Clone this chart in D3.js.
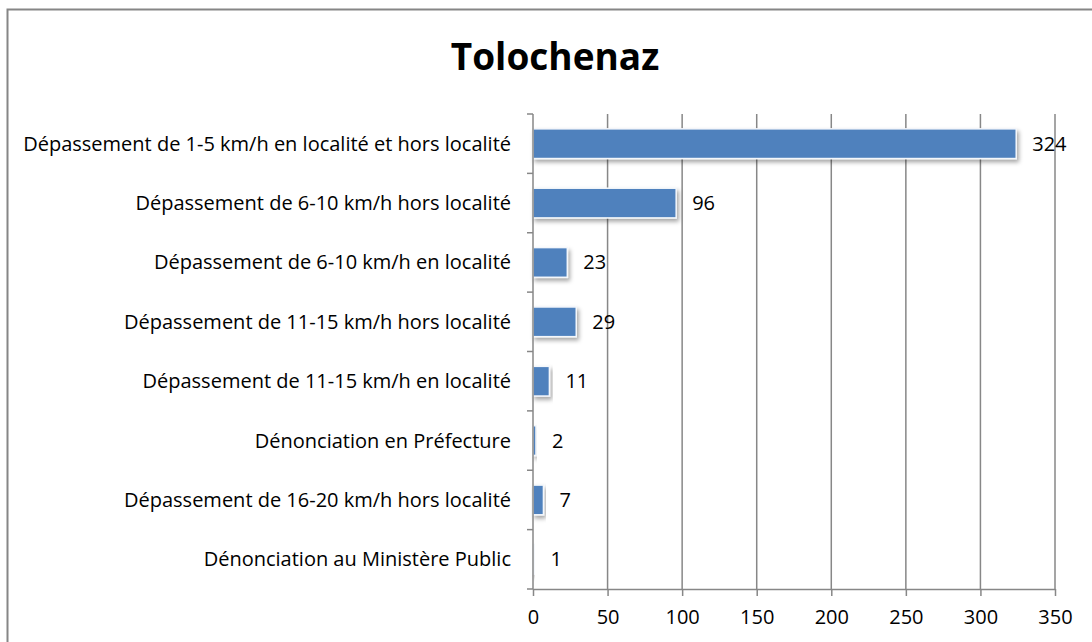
<!DOCTYPE html>
<html>
<head>
<meta charset="utf-8">
<script src="https://cdn.jsdelivr.net/npm/d3@7"></script>
<style>
  body { margin: 0; background: #fff; }
  svg { display: block; font-family: "Open Sans", "Noto Sans", sans-serif; }
</style>
</head>
<body>
<svg id="chart" width="1092" height="642"></svg>
<script>
const categories = [
  "Dépassement de 1-5 km/h en localité et hors localité",
  "Dépassement de 6-10 km/h hors localité",
  "Dépassement de 6-10 km/h en localité",
  "Dépassement de 11-15 km/h hors localité",
  "Dépassement de 11-15 km/h en localité",
  "Dénonciation en Préfecture",
  "Dépassement de 16-20 km/h hors localité",
  "Dénonciation au Ministère Public"
];
const values = [324, 96, 23, 29, 11, 2, 7, 1];
const xTicks = [0, 50, 100, 150, 200, 250, 300, 350];
const title = "Tolochenaz";

const width = 1092, height = 642;
const plotLeft = 533, plotRight = 1055, plotTop = 114, plotBottom = 589;
const gridColor = "#878787";
const fontSize = "20px";

const svg = d3.select("#chart");

// frame
svg.append("rect")
  .attr("x", 7.5).attr("y", 9.5)
  .attr("width", width + 10).attr("height", height + 10)
  .attr("fill", "none").attr("stroke", "#868686").attr("stroke-width", 2);

// shadow filter
const defs = svg.append("defs");
const f = defs.append("filter").attr("id", "shadow")
  .attr("x", "-10%").attr("y", "-30%").attr("width", "130%").attr("height", "190%");
f.append("feDropShadow")
  .attr("dx", 2).attr("dy", 3).attr("stdDeviation", 2)
  .attr("flood-color", "#000").attr("flood-opacity", 0.35);

svg.append("text")
  .attr("x", 555).attr("y", 70)
  .attr("text-anchor", "middle")
  .style("font-size", "37px").style("font-weight", "bold")
  .text(title);

const x = d3.scaleLinear().domain([0, 350]).range([plotLeft, plotRight]);
const y = d3.scaleBand().domain(categories).range([plotTop, plotBottom]).paddingInner(0.5).paddingOuter(0.25);

// gridlines
svg.append("g").selectAll("line")
  .data(xTicks.slice(1))
  .join("line")
  .attr("x1", d => x(d)).attr("x2", d => x(d))
  .attr("y1", plotTop).attr("y2", plotBottom)
  .attr("stroke", gridColor).attr("stroke-width", 1.5);

// bottom axis
const xAxis = svg.append("g")
  .attr("transform", `translate(0,${plotBottom})`)
  .call(d3.axisBottom(x).tickValues(xTicks).tickSize(7).tickPadding(14).tickSizeOuter(0));
xAxis.select(".domain").attr("stroke", gridColor).attr("stroke-width", 1.5);
xAxis.selectAll(".tick line").attr("stroke", gridColor).attr("stroke-width", 1.5);
xAxis.selectAll("text").style("font-size", fontSize).attr("fill", "#000")
  .style("font-family", "\"Open Sans\", sans-serif");

// bars
svg.append("g").selectAll("rect")
  .data(values)
  .join("rect")
  .attr("x", x(0))
  .attr("y", (d, i) => y(categories[i]))
  .attr("width", d => x(d) - x(0))
  .attr("height", y.bandwidth())
  .attr("fill", "#4F81BD")
  .attr("stroke", "#f4f7fb").attr("stroke-width", 1.5)
  .attr("filter", "url(#shadow)");

// left axis with ticks at band boundaries
const bounds = d3.range(categories.length + 1).map(i => plotTop + i * y.step());
svg.append("line")
  .attr("x1", plotLeft).attr("x2", plotLeft).attr("y1", plotTop).attr("y2", plotBottom)
  .attr("stroke", gridColor).attr("stroke-width", 1.5);
svg.append("g").selectAll("line")
  .data(bounds)
  .join("line")
  .attr("x1", plotLeft - 6).attr("x2", plotLeft)
  .attr("y1", d => d).attr("y2", d => d)
  .attr("stroke", gridColor).attr("stroke-width", 1.5);

// category labels
svg.append("g").selectAll("text")
  .data(categories)
  .join("text")
  .attr("x", plotLeft - 22)
  .attr("y", d => y(d) + y.bandwidth() / 2)
  .attr("dy", "0.35em")
  .attr("text-anchor", "end")
  .style("font-size", fontSize)
  .text(d => d);

// value labels
svg.append("g").selectAll("text")
  .data(values)
  .join("text")
  .attr("x", d => x(d) + 16)
  .attr("y", (d, i) => y(categories[i]) + y.bandwidth() / 2)
  .attr("dy", "0.35em")
  .style("font-size", fontSize)
  .text(d => d);
</script>
</body>
</html>
